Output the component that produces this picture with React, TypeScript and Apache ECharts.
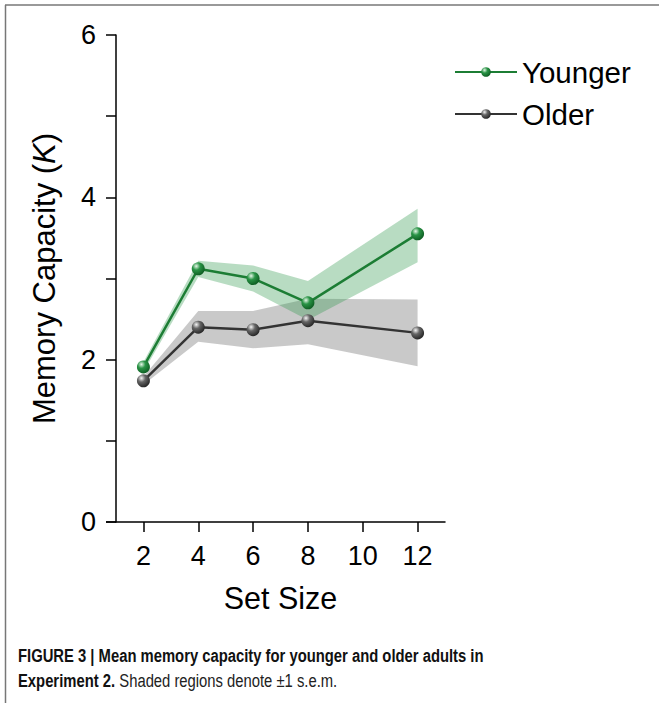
import React, { useEffect, useRef } from "react";
import * as echarts from "echarts";

const setSizes = [2, 4, 6, 8, 12];
const xTicks = [2, 4, 6, 8, 10, 12];
const youngerMean = [1.91, 3.12, 3.0, 2.7, 3.55];
const youngerUpper = [1.97, 3.22, 3.16, 2.97, 3.86];
const youngerLower = [1.85, 3.02, 2.84, 2.49, 3.2];
const olderMean = [1.74, 2.4, 2.37, 2.48, 2.33];
const olderUpper = [1.79, 2.6, 2.6, 2.75, 2.74];
const olderLower = [1.69, 2.22, 2.14, 2.19, 1.92];

const FONT = "'Liberation Sans', Arial, Helvetica, sans-serif";

function band(name: string, upper: number[], lower: number[], fill: string) {
  return {
    type: "custom",
    name,
    silent: true,
    z: 1,
    data: setSizes.map((x, i) => [x, lower[i], upper[i]]),
    encode: { x: 0, y: [1, 2] },
    renderItem: (params: any, api: any) => {
      if (params.dataIndex !== 0) return null;
      const top = setSizes.map((x, i) => api.coord([x, upper[i]]));
      const bot = setSizes.map((x, i) => api.coord([x, lower[i]])).reverse();
      return {
        type: "polygon",
        shape: { points: top.concat(bot) },
        style: { fill },
        silent: true,
      };
    },
  };
}

function sphere(light: string, mid: string, dark: string) {
  return new echarts.graphic.RadialGradient(0.35, 0.3, 0.75, [
    { offset: 0, color: light },
    { offset: 0.4, color: mid },
    { offset: 1, color: dark },
  ]);
}

export default function App() {
  const ref = useRef<HTMLDivElement>(null);
  useEffect(() => {
    if (!ref.current) return;
    const chart = echarts.init(ref.current, undefined, { renderer: "svg" });
    chart.setOption({
      animation: false,
      backgroundColor: "#ffffff",
      grid: { left: 116, top: 35, width: 329, height: 487, containLabel: false },
      xAxis: {
        type: "value",
        min: 1,
        max: 13,
        name: "Set Size",
        nameLocation: "middle",
        nameGap: 60,
        nameTextStyle: { fontFamily: FONT, fontSize: 30.5, color: "#000" },
        axisLine: { lineStyle: { color: "#000", width: 1.5 } },
        axisTick: { length: 10, lineStyle: { color: "#000", width: 1.5 }, customValues: xTicks },
        axisLabel: { customValues: xTicks, margin: 20, fontFamily: FONT, fontSize: 27, color: "#000" },
        splitLine: { show: false },
      },
      yAxis: {
        type: "value",
        min: 0,
        max: 6,
        interval: 1,
        name: "Memory Capacity ({i|K})",
        nameLocation: "middle",
        nameGap: 56,
        nameTextStyle: {
          fontFamily: FONT,
          fontSize: 31,
          color: "#000",
          rich: { i: { fontFamily: FONT, fontSize: 31, fontStyle: "italic", color: "#000" } },
        },
        axisLine: { show: true, lineStyle: { color: "#000", width: 1.5 } },
        axisTick: { show: true, length: 10, lineStyle: { color: "#000", width: 1.5 } },
        axisLabel: {
          margin: 20,
          fontFamily: FONT,
          fontSize: 27,
          color: "#000",
          formatter: (v: number) => (v % 2 === 0 ? String(v) : ""),
        },
        splitLine: { show: false },
      },
      legend: {
        data: ["Younger", "Older"],
        orient: "vertical",
        left: 454,
        top: 57,
        padding: 0,
        itemWidth: 62,
        itemHeight: 12,
        itemGap: 12,
        textStyle: { fontFamily: FONT, fontSize: 29.5, color: "#000" },
      },
      graphic: [
        { type: "line", shape: { x1: 5, y1: 5, x2: 659, y2: 5 }, style: { stroke: "#777", lineWidth: 1.5 } },
        { type: "line", shape: { x1: 5.5, y1: 5, x2: 5.5, y2: 703 }, style: { stroke: "#777", lineWidth: 1.5 } },
        { type: "line", shape: { x1: 106, y1: 522, x2: 116, y2: 522 }, style: { stroke: "#000", lineWidth: 1.5 } },
        {
          type: "text",
          x: 18,
          y: 646,
          scaleX: 0.78,
          style: {
            text: "FIGURE 3 | Mean memory capacity for younger and older adults in",
            font: `bold 19px ${FONT}`,
            fill: "#111",
          },
        },
        {
          type: "text",
          x: 18,
          y: 671,
          scaleX: 0.78,
          style: {
            text: "{b|Experiment 2.} Shaded regions denote \u00b11 s.e.m.",
            font: `19px ${FONT}`,
            fill: "#222",
            rich: { b: { font: `bold 19px ${FONT}`, fill: "#111" } },
          },
        },
      ],
      series: [
        band("Older band", olderUpper, olderLower, "rgba(120,120,120,0.4)"),
        band("Younger band", youngerUpper, youngerLower, "rgba(40,150,70,0.33)"),
        {
          type: "line",
          name: "Older",
          z: 3,
          data: setSizes.map((x, i) => [x, olderMean[i]]),
          lineStyle: { color: "#333", width: 2.5 },
          symbol: "circle",
          symbolSize: 13,
          itemStyle: { color: sphere("#f4f4f4", "#666", "#222"), borderWidth: 0 },
        },
        {
          type: "line",
          name: "Younger",
          z: 4,
          data: setSizes.map((x, i) => [x, youngerMean[i]]),
          lineStyle: { color: "#1c7d34", width: 2.5 },
          symbol: "circle",
          symbolSize: 13,
          itemStyle: { color: sphere("#e6f6e8", "#2a9446", "#0c5a20"), borderWidth: 0 },
        },
      ],
    });
    return () => chart.dispose();
  }, []);
  return (
    <div
      ref={ref}
      style={{ position: "fixed", left: 0, top: 0, width: 659, height: 703, background: "#fff" }}
    />
  );
}
